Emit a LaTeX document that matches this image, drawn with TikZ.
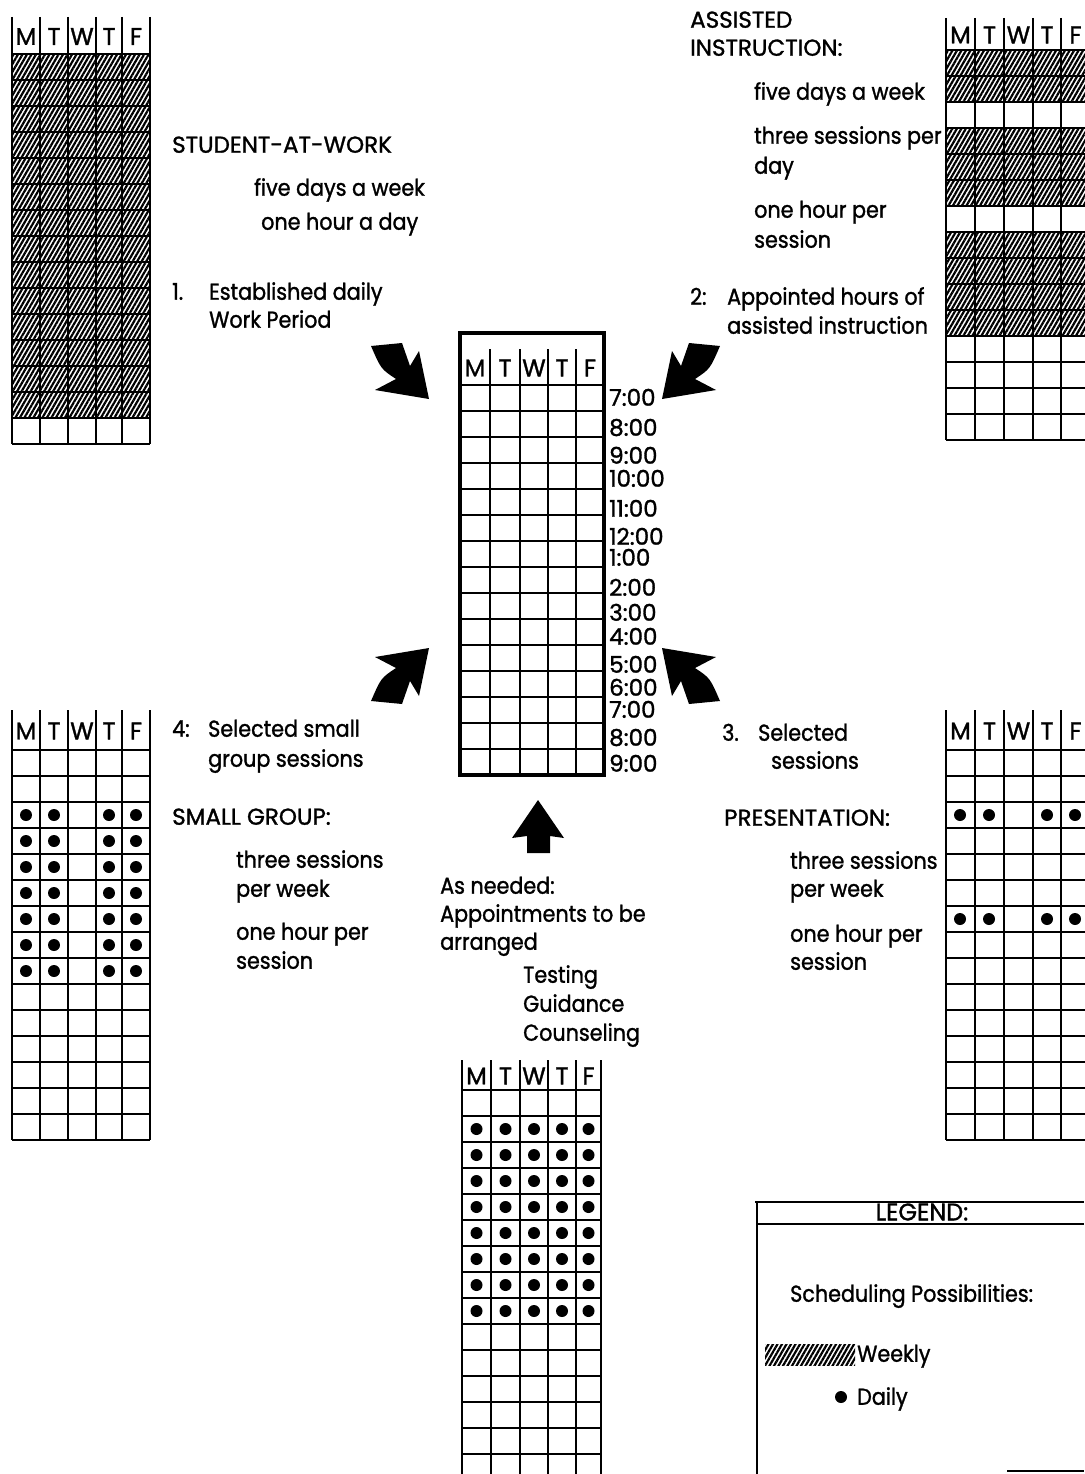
\documentclass[tikz,border=0pt]{standalone}
\usepackage{fontspec}
\setmainfont{Poppins}[RawFeature={embolden=1.3},FakeStretch=0.9]
\newfontfamily\widefont{Poppins}[RawFeature={embolden=1.3}]
\usetikzlibrary{patterns.meta}
\def\rowh{26}
% column grid: #1..#6 column x, #7 header top, #8 header bottom, #9 name
\newcommand\schedgrid[9]{%
  \foreach \xx in {#1,#2,#3,#4,#5,#6}
    \draw[gridline] (\xx,#7) -- (\xx,{#8+15*\rowh});
  \foreach \r in {0,...,15}
    \draw[gridline] (#1,{#8+\r*\rowh}) -- (#6,{#8+\r*\rowh});
  \foreach \xa/\xb/\d [count=\i] in {#1/#2/M,#2/#3/T,#3/#4/W,#4/#5/T,#5/#6/F}
    \node[hdr] (#9-h\i) at ({(\xa+\xb)/2},{(#7+#8)/2+1}) {\d};
}
% hatched rows: #1 left, #2 right, #3 header bottom, #4 row list
\newcommand\hatchrows[4]{%
  \foreach \r in {#4}
    \fill[hatch] (#1,{#3+(\r-1)*\rowh}) rectangle (#2,{#3+\r*\rowh});
}
% dotted rows: #1 column centres, #2 header bottom, #3 row list, #4 name
\newcommand\dotrows[4]{%
  \foreach \r in {#3}
    \foreach \c [count=\k] in {#1}
      \node[dotmark] (#4-\r-\k) at (\c,{#2+(\r-0.5)*\rowh}) {};
}
\newcommand\swoosh{%
  \fill (371,346) -- (402,343) .. controls (406,354) .. (410,366) -- (419,351)
    -- (429,399) -- (375,390) -- (396,379) .. controls (381,369) .. cycle;
}
\begin{document}
\begin{tikzpicture}[x=1pt,y=-1pt,
  lbl/.style={anchor=mid west,inner sep=0pt,yshift=-5pt,font=\fontsize{23}{26}\selectfont},
  caps/.style={lbl,font=\fontsize{23}{26}\widefont},
  hdr/.style={inner sep=0pt,font=\fontsize{24}{26}\widefont},
  gridline/.style={line width=2.4pt},
  hatch/.style={pattern={Lines[angle=60,distance=3.9pt,line width=2.2pt]}},
  dotmark/.style={circle,fill=black,inner sep=0pt,minimum size=12pt}]
\useasboundingbox (0,0) rectangle (1084,1474);

% ---------- top-left: student at work ----------
\hatchrows{12}{150}{54}{1,...,14}
\schedgrid{12}{40}{68}{96}{122}{150}{17}{54}{tl}
\node[caps] (saw) at (172,145) {STUDENT-AT-WORK};
\node[lbl] (saw1) at (254,188) {five days a week};
\node[lbl] (saw2) at (261,222) {one hour a day};
\node[lbl] (saw3) at (172,292) {\makebox[37pt][l]{1.}Established daily};
\node[lbl] (saw4) at (209,320) {Work Period};

% ---------- top-right: assisted instruction ----------
\hatchrows{946}{1090}{50}{1,2,4,5,6,8,9,10,11}
\schedgrid{946}{975}{1004}{1033}{1061}{1090}{18}{50}{tr}
\node[caps] (ai) at (690,20) {ASSISTED};
\node[caps] (ai0) at (690,48) {INSTRUCTION:};
\node[lbl] (ai1) at (754,92) {five days a week};
\node[lbl] (ai2) at (754,136) {three sessions per};
\node[lbl] (ai3) at (754,166) {day};
\node[lbl] (ai4) at (754,210) {one hour per};
\node[lbl] (ai5) at (754,240) {session};
\node[lbl] (ai6) at (690,297) {\makebox[37pt][l]{2:}Appointed hours of};
\node[lbl] (ai7) at (727,326) {assisted instruction};

% ---------- centre: master schedule ----------
\schedgrid{460}{490}{520}{548}{576}{604}{349}{385}{c}
\draw[line width=3.8pt] (460,333) rectangle (604,775);
\foreach \t/\yy [count=\i] in {7:00/398,8:00/428,9:00/456,10:00/479,11:00/509,
   12:00/537,1:00/558,2:00/588,3:00/613,4:00/637,5:00/665,6:00/688,7:00/710,
   8:00/738,9:00/764}
  \node[caps] (tm\i) at (609,\yy) {\t};

% ---------- bottom-left: small group ----------
\schedgrid{12}{40}{68}{96}{122}{150}{710}{750}{bl}
\dotrows{26,54,109,136}{750}{3,...,9}{bld}
\node[lbl] (sg0) at (172,729) {\makebox[36pt][l]{4:}Selected small};
\node[lbl] (sg1) at (208,759) {group sessions};
\node[caps] (sg) at (172,817) {SMALL GROUP:};
\node[lbl] (sg2) at (236,860) {three sessions};
\node[lbl] (sg3) at (236,889) {per week};
\node[lbl] (sg4) at (236,932) {one hour per};
\node[lbl] (sg5) at (236,961) {session};

% ---------- right-middle: presentation ----------
\schedgrid{946}{975}{1004}{1033}{1061}{1090}{710}{750}{rm}
\dotrows{960,989,1047,1075}{750}{3,7}{rmd}
\node[lbl] (pr0) at (722,733) {\makebox[36pt][l]{3.}Selected};
\node[lbl] (pr1) at (771,761) {sessions};
\node[caps] (pr) at (724,818) {PRESENTATION:};
\node[lbl] (pr2) at (790,861) {three sessions};
\node[lbl] (pr3) at (790,889) {per week};
\node[lbl] (pr4) at (790,934) {one hour per};
\node[lbl] (pr5) at (790,962) {session};

% ---------- bottom-centre: as needed ----------
\schedgrid{462}{491}{520}{548}{576}{601}{1060}{1090}{bc}
\dotrows{476.5,505.5,534,562,588.5}{1090}{2,...,9}{bcd}
\node[lbl] (an0) at (440,886) {As needed:};
\node[lbl] (an1) at (440,914) {Appointments to be};
\node[lbl] (an2) at (440,942) {arranged};
\node[lbl] (an3) at (523,975) {Testing};
\node[lbl] (an4) at (523,1004) {Guidance};
\node[lbl] (an5) at (523,1033) {Counseling};

% ---------- arrows ----------
\swoosh
\begin{scope}[xshift=1091pt,xscale=-1]\swoosh\end{scope}
\begin{scope}[yshift=-1047pt,yscale=-1]\swoosh\end{scope}
\begin{scope}[xshift=1091pt,yshift=-1047pt,xscale=-1,yscale=-1]\swoosh\end{scope}
\fill (538,800) -- (564,838) -- (550,836) -- (550,853) -- (527,853)
  -- (527,836) -- (512,838) -- cycle;

% ---------- legend ----------
\draw[gridline] (755,1202) -- (1084,1202);
\draw[gridline] (757,1202) -- (757,1474);
\draw[gridline] (757,1224) -- (1084,1224);
\draw[gridline] (1007,1471) -- (1084,1471);
\node[hdr,font=\fontsize{24}{26}\widefont] (legend) at (922,1212) {LEGEND:};
\node[lbl] (lg1) at (790,1294) {Scheduling Possibilities:};
\fill[hatch] (765,1344) rectangle (855,1365);
\node[lbl] (lg2) at (857,1354) {Weekly};
\node[dotmark] (lgdot) at (841,1397) {};
\node[lbl] (lg3) at (857,1397) {Daily};
\end{tikzpicture}
\end{document}
